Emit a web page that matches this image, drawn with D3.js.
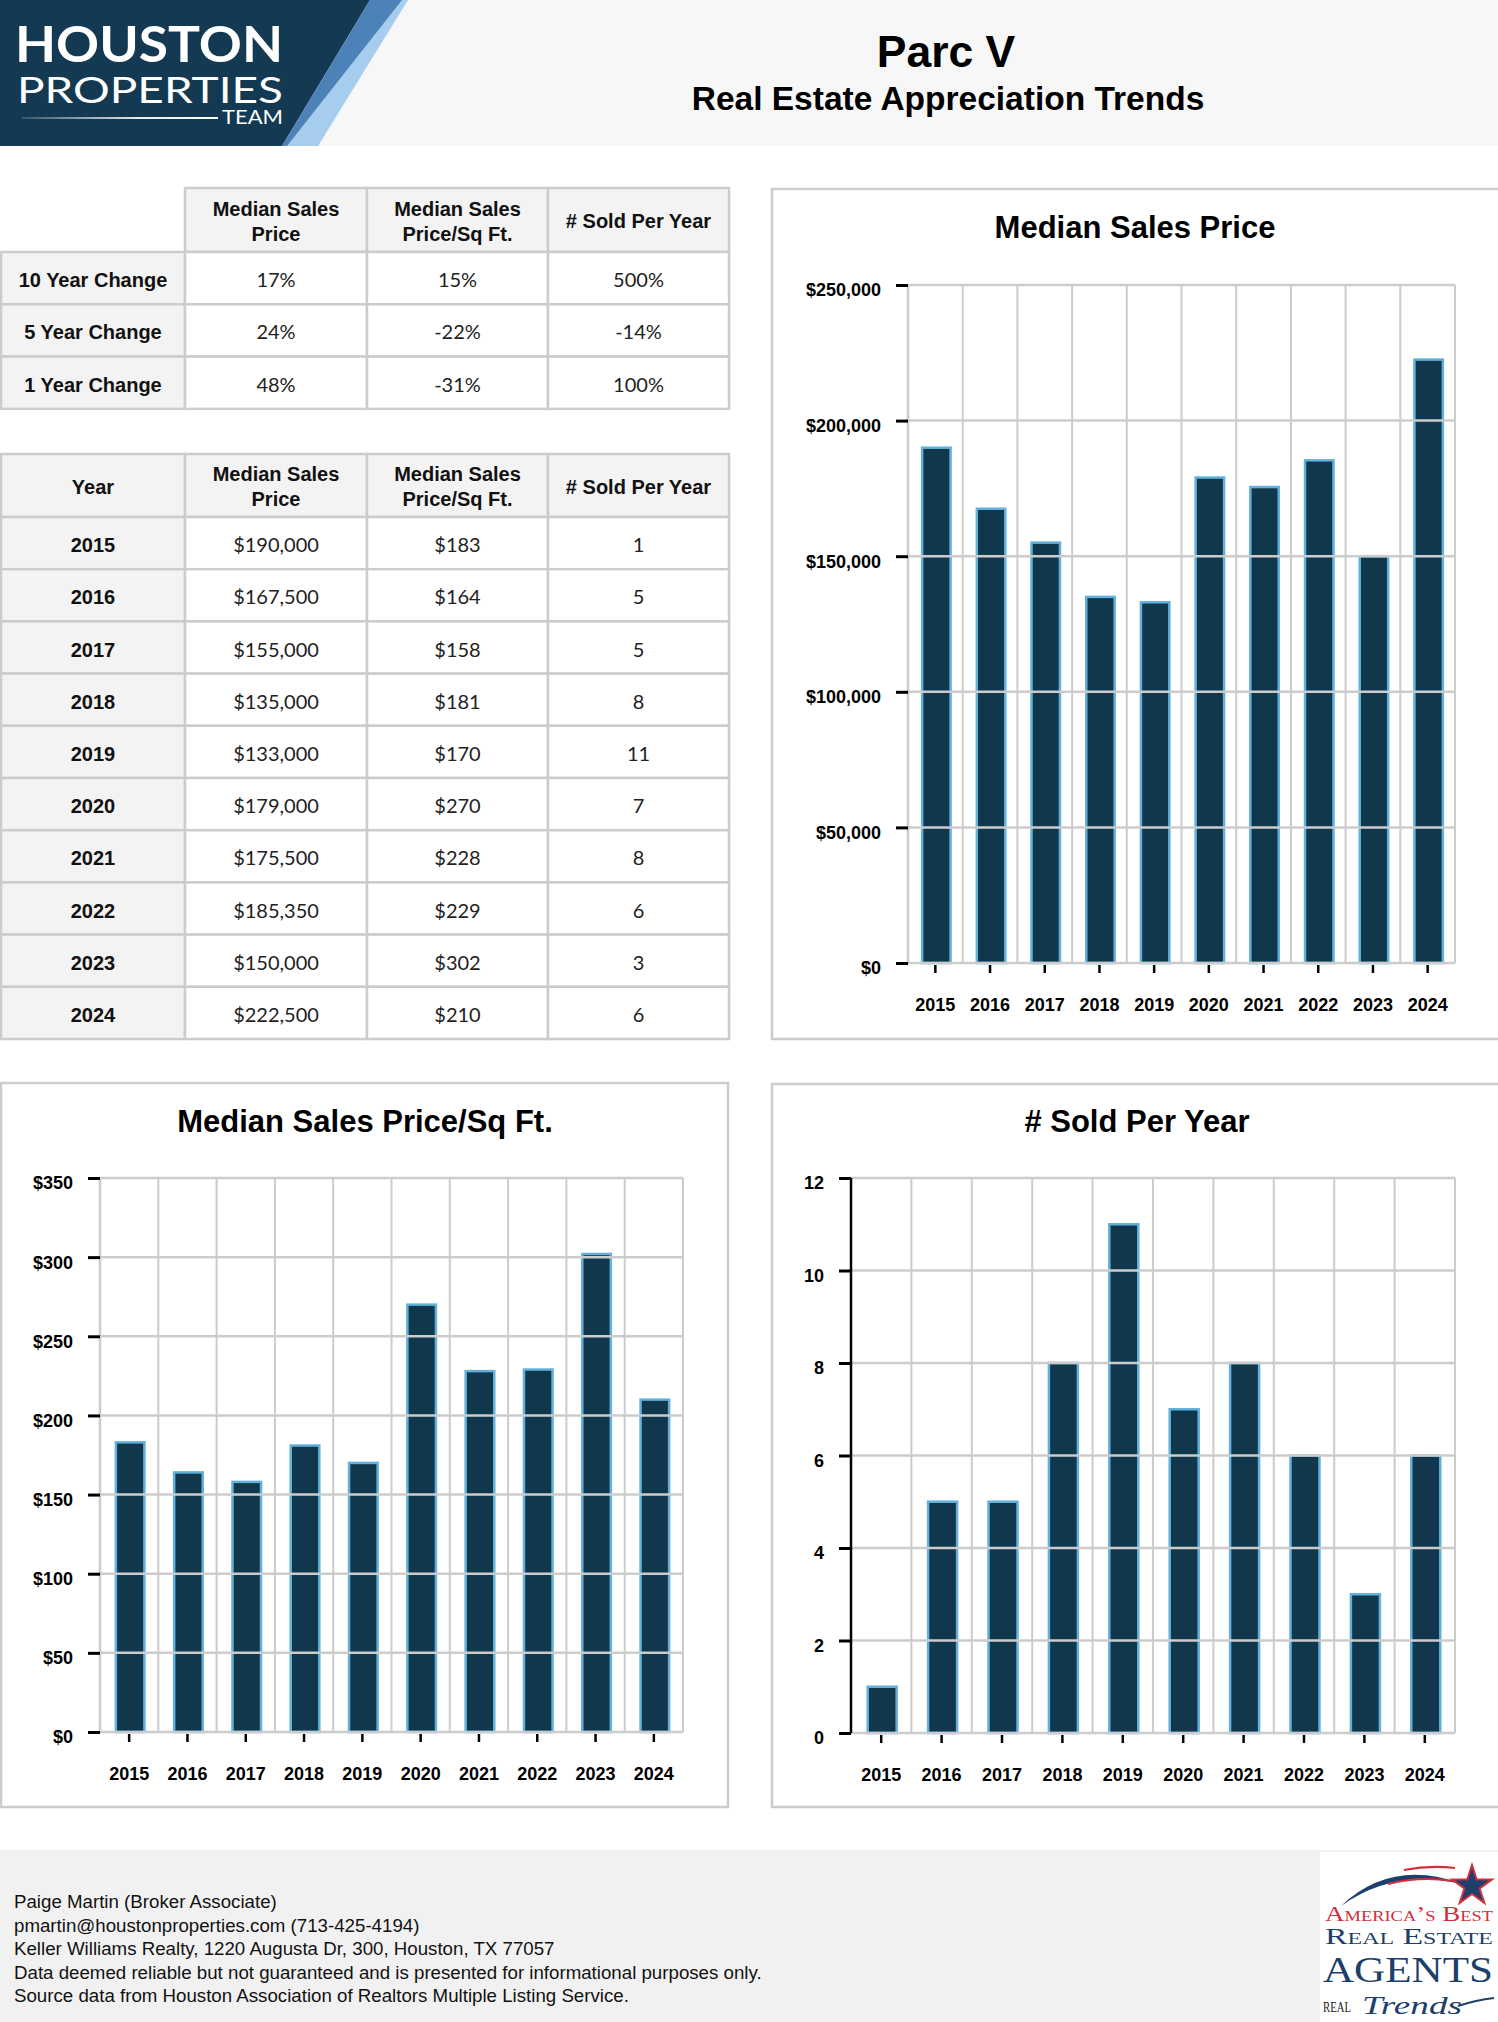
<!DOCTYPE html>
<html><head><meta charset="utf-8">
<script src="https://cdn.jsdelivr.net/npm/d3@7"></script>
<style>
body{margin:0;background:#fff;}
svg{display:block;}
.ctitle{font-family:"Liberation Sans",Arial,sans-serif;font-weight:bold;font-size:31px;fill:#000;}
.th{font-family:"Liberation Sans",Arial,sans-serif;font-weight:bold;font-size:20px;fill:#111;}
.td{font-family:Lato,"Noto Sans",sans-serif;font-size:20px;fill:#222;}
.foot{font-family:"Liberation Sans",Arial,sans-serif;font-size:18.7px;fill:#111;}
</style></head><body>
<svg id="page" width="1498" height="2022"></svg>
<script>
// ---------- DATA ----------
const years = ['2015','2016','2017','2018','2019','2020','2021','2022','2023','2024'];
const medianPrice = [190000, 167500, 155000, 135000, 133000, 179000, 175500, 185350, 150000, 222500];
const pricePerSqft = [183, 164, 158, 181, 170, 270, 228, 229, 302, 210];
const soldPerYear = [1, 5, 5, 8, 11, 7, 8, 6, 3, 6];

const changeLabels = ['10 Year Change', '5 Year Change', '1 Year Change'];
const changePrice = ['17%', '24%', '48%'];
const changeSqft = ['15%', '-22%', '-31%'];
const changeSold = ['500%', '-14%', '100%'];

const changeHeaders = ['', 'Median Sales|Price', 'Median Sales|Price/Sq Ft.', '# Sold Per Year'];
const yearHeaders = ['Year', 'Median Sales|Price', 'Median Sales|Price/Sq Ft.', '# Sold Per Year'];

const priceTicks = [0, 50000, 100000, 150000, 200000, 250000];
const sqftTicks = [0, 50, 100, 150, 200, 250, 300, 350];
const soldTicks = [0, 2, 4, 6, 8, 10, 12];

const footerLines = [
  'Paige Martin (Broker Associate)',
  'pmartin@houstonproperties.com (713-425-4194)',
  'Keller Williams Realty, 1220 Augusta Dr, 300, Houston, TX 77057',
  'Data deemed reliable but not guaranteed and is presented for informational purposes only.',
  'Source data from Houston Association of Realtors Multiple Listing Service.'
];

// ---------- PAGE ----------
const svg = d3.select('#page');
const NAVY = '#11374c', BARSTROKE = '#62b1dc', GRID = '#cccccc';

// header
svg.append('rect').attr('x',0).attr('y',0).attr('width',1498).attr('height',146).attr('fill','#f7f7f7');
svg.append('polygon').attr('points','0,0 370,0 282,146 0,146').attr('fill','#133a52');
svg.append('polygon').attr('points','400,0 408,0 318,146 282,146').attr('fill','#a6cdee');
svg.append('polygon').attr('points','370,0 402,0 287,146 282,146').attr('fill','#4d82b8');
svg.append('text').attr('x',15).attr('y',62).attr('textLength',268).attr('lengthAdjust','spacingAndGlyphs')
  .style('font-family','Lato,"Open Sans",sans-serif').style('font-weight','bold').style('font-size','50px').style('fill','#fff').text('HOUSTON');
svg.append('text').attr('x',17).attr('y',103).attr('textLength',266).attr('lengthAdjust','spacingAndGlyphs')
  .style('font-family','Lato,"Open Sans",sans-serif').style('font-weight','normal').style('font-size','36px').style('fill','#fff').text('PROPERTIES');
const lg = svg.append('defs').append('linearGradient').attr('id','lineGrad');
lg.append('stop').attr('offset','0%').attr('stop-color','#ffffff').attr('stop-opacity',0.15);
lg.append('stop').attr('offset','60%').attr('stop-color','#ffffff').attr('stop-opacity',0.9);
lg.append('stop').attr('offset','100%').attr('stop-color','#ffffff').attr('stop-opacity',1);
svg.append('rect').attr('x',22).attr('y',117).attr('width',196).attr('height',2).attr('fill','url(#lineGrad)');
svg.append('text').attr('x',222).attr('y',124).attr('textLength',61).attr('lengthAdjust','spacingAndGlyphs')
  .style('font-family','Lato,"Open Sans",sans-serif').style('font-size','19px').style('fill','#fff').text('TEAM');

svg.append('text').attr('x',946).attr('y',67).attr('text-anchor','middle')
  .style('font-family','"Liberation Sans",Arial,sans-serif').style('font-weight','bold').style('font-size','44.5px').text('Parc V');
svg.append('text').attr('x',948).attr('y',110).attr('text-anchor','middle')
  .style('font-family','"Liberation Sans",Arial,sans-serif').style('font-weight','bold').style('font-size','33.5px').text('Real Estate Appreciation Trends');

// ---------- TABLES ----------
const colX = [0, 184, 366, 547, 728];
function drawTable(top, headH, rowH, headers, rows, skipCorner) {
  const g = svg.append('g');
  const rowTop = i => top + headH + i * rowH;
  headers.forEach((h, c) => {
    if (c === 0 && skipCorner) return;
    g.append('rect').attr('x', colX[c]+1).attr('y', top).attr('width', colX[c+1]-colX[c]).attr('height', headH)
      .attr('fill', '#f3f3f3').attr('stroke', GRID).attr('stroke-width', 2.5);
    const parts = h.split('|');
    const cy = top + headH/2;
    const t = g.append('text').attr('class','th').attr('text-anchor','middle');
    parts.forEach((p, k) => {
      t.append('tspan').attr('x', (colX[c]+colX[c+1])/2 + 1)
        .attr('y', cy + 8 + (k - (parts.length-1)/2) * 25).text(p);
    });
  });
  rows.forEach((r, i) => {
    r.forEach((v, c) => {
      g.append('rect').attr('x', colX[c]+1).attr('y', rowTop(i)).attr('width', colX[c+1]-colX[c]).attr('height', rowH)
        .attr('fill', c === 0 ? '#f3f3f3' : '#ffffff').attr('stroke', GRID).attr('stroke-width', 2.5);
      g.append('text').attr('class', c === 0 ? 'th' : 'td').attr('text-anchor','middle')
        .attr('x', (colX[c]+colX[c+1])/2 + 1).attr('y', rowTop(i) + rowH/2 + 9).text(v);
    });
  });
}
const fmtPrice = d3.format('$,');
const changeRows = changeLabels.map((l, i) => [l, changePrice[i], changeSqft[i], changeSold[i]]);
drawTable(188, 64, 52.3, changeHeaders, changeRows, true);
const yearRows = years.map((y, i) => [y, fmtPrice(medianPrice[i]), fmtPrice(pricePerSqft[i]), String(soldPerYear[i])]);
drawTable(454, 63, 52.2, yearHeaders, yearRows, false);

// ---------- CHARTS ----------
function barChart(cfg) {
  const g = svg.append('g');
  g.append('rect').attr('x', cfg.box[0]).attr('y', cfg.box[1]).attr('width', cfg.box[2]).attr('height', cfg.box[3])
    .attr('fill', '#fff').attr('stroke', GRID).attr('stroke-width', 2.5);
  g.append('text').attr('class','ctitle').attr('x', cfg.titleX).attr('y', cfg.titleY).attr('text-anchor','middle').text(cfg.title);

  const x = d3.scaleBand().domain(years).range([cfg.left, cfg.right]);
  const y = d3.scaleLinear().domain([0, cfg.max]).range([cfg.bottom, cfg.top]);

  const bounds = years.map(d => x(d)).concat([cfg.right]);
  g.selectAll('line.vg').data(bounds).join('line').attr('class','vg')
    .attr('x1', d => d).attr('x2', d => d).attr('y1', cfg.top).attr('y2', cfg.bottom)
    .attr('stroke', GRID).attr('stroke-width', 2);

  const bw = x.bandwidth() * cfg.ratio;
  g.selectAll('rect.bar').data(cfg.values).join('rect').attr('class','bar')
    .attr('x', (d, i) => x(years[i]) + (x.bandwidth() - bw) / 2 + 1)
    .attr('y', d => y(d)).attr('width', bw).attr('height', d => y(0) - y(d))
    .attr('fill', NAVY).attr('stroke', BARSTROKE).attr('stroke-width', 2.5);

  g.selectAll('line.hg').data(cfg.ticks).join('line').attr('class','hg')
    .attr('x1', cfg.left).attr('x2', cfg.right).attr('y1', d => y(d)).attr('y2', d => y(d))
    .attr('stroke', GRID).attr('stroke-width', 2.5);

  g.append('line').attr('x1', cfg.left).attr('x2', cfg.left).attr('y1', cfg.top).attr('y2', cfg.bottom)
    .attr('stroke', cfg.axisColor).attr('stroke-width', 2.5);

  const ya = g.append('g').attr('transform', `translate(${cfg.left},0)`)
    .call(d3.axisLeft(y).tickValues(cfg.ticks).tickFormat(cfg.fmt).tickSize(12).tickPadding(15));
  ya.select('.domain').remove();
  ya.selectAll('line').attr('stroke', '#000').attr('stroke-width', 3);
  ya.attr('font-family', '"Liberation Sans",Arial,sans-serif').attr('font-size', 18).attr('font-weight', 'bold');
  ya.selectAll('text').attr('dy', '0.61em').attr('fill', '#000');

  const xa = g.append('g').attr('transform', `translate(0,${cfg.bottom + 2})`)
    .call(d3.axisBottom(x).tickSize(8).tickPadding(25));
  xa.select('.domain').remove();
  xa.selectAll('line').attr('stroke', '#000').attr('stroke-width', 2.5);
  xa.attr('font-family', '"Liberation Sans",Arial,sans-serif').attr('font-size', 18).attr('font-weight', 'bold');
  xa.selectAll('text').attr('fill', '#000');
}

barChart({
  box: [772, 189, 740, 850], title: 'Median Sales Price', titleX: 1135, titleY: 238,
  left: 908, right: 1455, top: 285, bottom: 963, max: 250000, ticks: priceTicks,
  fmt: d3.format('$,'), values: medianPrice, ratio: 0.52, axisColor: GRID
});
barChart({
  box: [1, 1083, 727, 724], title: 'Median Sales Price/Sq Ft.', titleX: 365, titleY: 1132,
  left: 100, right: 683, top: 1178, bottom: 1732, max: 350, ticks: sqftTicks,
  fmt: d3.format('$,'), values: pricePerSqft, ratio: 0.49, axisColor: GRID
});
barChart({
  box: [772, 1084, 740, 723], title: '# Sold Per Year', titleX: 1137, titleY: 1132,
  left: 851, right: 1455, top: 1178, bottom: 1733, max: 12, ticks: soldTicks,
  fmt: d3.format('d'), values: soldPerYear, ratio: 0.48, axisColor: '#000'
});

// ---------- FOOTER ----------
svg.append('rect').attr('x', 0).attr('y', 1850).attr('width', 1498).attr('height', 172).attr('fill', '#f1f1f1');
svg.selectAll('text.foot').data(footerLines).join('text').attr('class', 'foot')
  .attr('x', 14).attr('y', (d, i) => 1908 + i * 23.5).text(d => d);

// Award logo
const L = svg.append('g');
L.append('rect').attr('x', 1320).attr('y', 1852).attr('width', 178).attr('height', 170).attr('fill', '#fff');
L.append('path').attr('d', 'M1341,1906 Q1392,1858 1462,1884 Q1394,1868 1341,1906 Z').attr('fill', '#1d3f6b');
L.append('path').attr('d', 'M1404,1870 Q1430,1865 1455,1868').attr('fill', 'none').attr('stroke', '#d42e3c').attr('stroke-width', 2);
L.append('path').attr('d', 'M1388,1884 Q1420,1876 1452,1881').attr('fill', 'none').attr('stroke', '#d42e3c').attr('stroke-width', 2);
const starPts = d3.range(10).map(i => {
  const a = -Math.PI / 2 + i * Math.PI / 5, r = i % 2 ? 8 : 21;
  return [1472 + r * Math.cos(a), 1886 + r * Math.sin(a)].join(',');
}).join(' ');
L.append('polygon').attr('points', starPts).attr('fill', '#1d3f6b').attr('stroke', '#d42e3c').attr('stroke-width', 2);
const serif = '"Liberation Serif","DejaVu Serif",serif';
L.append('text').attr('x', 1325).attr('y', 1921).attr('textLength', 168).attr('lengthAdjust', 'spacingAndGlyphs')
  .style('font-family', serif).style('font-size', '22px').style('font-variant', 'small-caps').style('fill', '#d42e3c').text("America’s Best");
L.append('text').attr('x', 1325).attr('y', 1944).attr('textLength', 168).attr('lengthAdjust', 'spacingAndGlyphs')
  .style('font-family', serif).style('font-size', '24px').style('font-variant', 'small-caps').style('fill', '#1d3f6b').text('Real Estate');
L.append('text').attr('x', 1323).attr('y', 1982).attr('textLength', 170).attr('lengthAdjust', 'spacingAndGlyphs')
  .style('font-family', serif).style('font-size', '36px').style('fill', '#1d3f6b').text('AGENTS');
L.append('text').attr('x', 1323).attr('y', 2012).attr('textLength', 28).attr('lengthAdjust', 'spacingAndGlyphs')
  .style('font-family', serif).style('font-size', '15px').style('fill', '#222').text('REAL');
L.append('text').attr('x', 1362).attr('y', 2014).attr('textLength', 100).attr('lengthAdjust', 'spacingAndGlyphs')
  .style('font-family', serif).style('font-style', 'italic').style('font-size', '26px').style('fill', '#1d3f6b').text('Trends');
L.append('path').attr('d', 'M1458,2006 Q1476,2000 1494,1998').attr('fill', 'none').attr('stroke', '#1d3f6b').attr('stroke-width', 2);
</script>
</body></html>
